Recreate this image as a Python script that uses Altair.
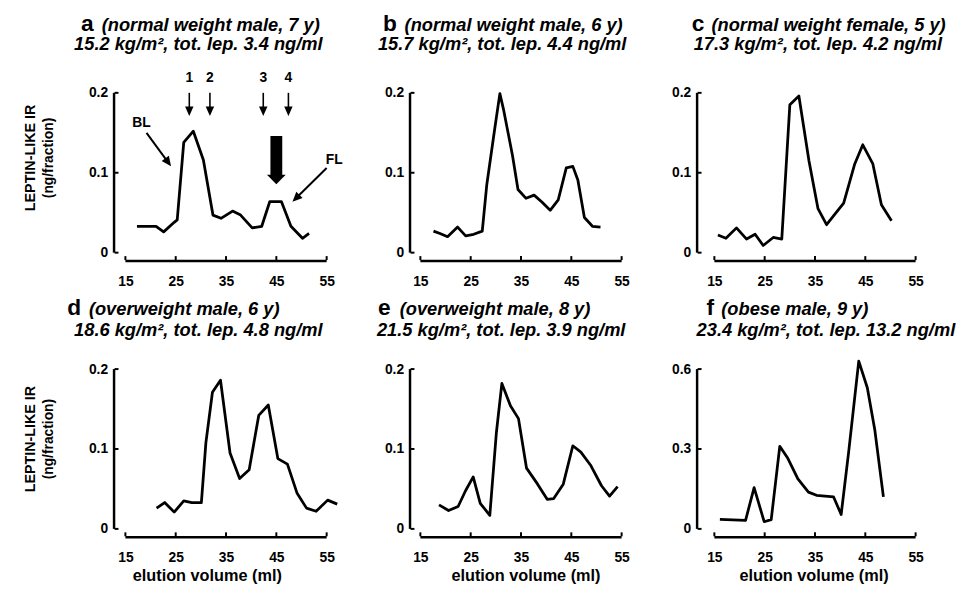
import altair as alt
import pandas as pd

# ---------------- data ----------------
panel_letters = ["a", "b", "c", "d", "e", "f"]
panel_subjects = [
    "(normal weight male, 7 y)",
    "(normal weight male, 6 y)",
    "(normal weight female, 5 y)",
    "(overweight male, 6 y)",
    "(overweight male, 8 y)",
    "(obese male, 9 y)",
]
panel_stats = [
    "15.2 kg/m², tot. lep. 3.4 ng/ml",
    "15.7 kg/m², tot. lep. 4.4 ng/ml",
    "17.3 kg/m², tot. lep. 4.2 ng/ml",
    "18.6 kg/m², tot. lep. 4.8 ng/ml",
    "21.5 kg/m², tot. lep. 3.9 ng/ml",
    "23.4 kg/m², tot. lep. 13.2 ng/ml",
]
x_ticks = [15, 25, 35, 45, 55]
y_ticks_low = [0, 0.1, 0.2]
y_ticks_high = [0, 0.3, 0.6]
y_title_lines = ["LEPTIN-LIKE IR", "(ng/fraction)"]
x_title = "elution volume (ml)"

a_ml = [17.3, 21.1, 22.6, 24.7, 25.3, 26.6, 28.5, 30.5, 32.4, 34.0, 36.3, 37.9, 40.2, 42.1, 43.7, 46.0, 47.9, 50.2, 51.5]
a_ir = [0.033, 0.033, 0.026, 0.038, 0.041, 0.138, 0.152, 0.116, 0.047, 0.043, 0.052, 0.047, 0.031, 0.033, 0.064, 0.064, 0.033, 0.018, 0.024]

b_ml = [17.6, 18.9, 20.4, 22.4, 24.0, 25.6, 27.3, 28.2, 29.8, 30.8, 31.5, 33.3, 34.4, 36.0, 37.6, 39.2, 40.8, 42.4, 44.0, 45.3, 46.3, 47.6, 49.2, 50.8]
b_ir = [0.027, 0.024, 0.020, 0.032, 0.021, 0.023, 0.027, 0.085, 0.156, 0.199, 0.180, 0.122, 0.079, 0.068, 0.072, 0.063, 0.053, 0.066, 0.106, 0.108, 0.091, 0.044, 0.033, 0.032]

c_ml = [15.7, 17.3, 19.4, 21.4, 23.1, 24.7, 26.7, 28.4, 30.0, 31.8, 33.8, 35.6, 37.3, 38.8, 40.7, 42.9, 44.5, 46.5, 48.2, 50.2]
c_ir = [0.022, 0.018, 0.031, 0.017, 0.023, 0.009, 0.019, 0.017, 0.185, 0.196, 0.115, 0.055, 0.035, 0.047, 0.062, 0.111, 0.135, 0.111, 0.060, 0.040]

d_ml = [21.2, 22.8, 24.7, 26.6, 28.2, 30.1, 31.0, 32.3, 33.9, 35.8, 37.7, 39.6, 41.5, 43.4, 45.3, 47.2, 49.1, 51.0, 52.9, 55.2, 57.1]
d_ir = [0.026, 0.033, 0.021, 0.035, 0.033, 0.033, 0.108, 0.171, 0.186, 0.095, 0.063, 0.074, 0.142, 0.155, 0.088, 0.081, 0.045, 0.026, 0.022, 0.036, 0.031]

e_ml = [18.7, 20.6, 22.5, 24.0, 25.5, 26.9, 28.8, 30.1, 31.2, 32.9, 34.5, 36.1, 38.3, 40.2, 41.5, 43.4, 45.3, 46.9, 48.8, 51.0, 52.6, 54.2]
e_ir = [0.030, 0.023, 0.028, 0.048, 0.065, 0.032, 0.017, 0.120, 0.182, 0.154, 0.138, 0.076, 0.056, 0.037, 0.038, 0.056, 0.104, 0.096, 0.080, 0.054, 0.041, 0.053]

f_ml = [16.1, 21.2, 22.9, 24.9, 26.3, 28.0, 29.6, 31.6, 33.7, 35.3, 38.7, 40.2, 41.7, 43.7, 45.4, 46.9, 48.6]
f_ir = [0.036, 0.032, 0.155, 0.027, 0.035, 0.310, 0.265, 0.188, 0.138, 0.126, 0.120, 0.054, 0.290, 0.630, 0.530, 0.370, 0.120]

panel_ml = [a_ml, b_ml, c_ml, d_ml, e_ml, f_ml]
panel_ir = [a_ir, b_ir, c_ir, d_ir, e_ir, f_ir]

# annotations of panel a (fraction markers 1-4, BL / FL arrows)
marker_ml = [27.7, 31.8, 42.4, 47.4]
marker_labels = ["1", "2", "3", "4"]
marker_label_ir = 0.213
marker_top_ir = 0.200
marker_shaft_end_ir = 0.181
marker_head_ir = 0.177
bl_label = ["BL"]
bl_label_pos = [18.2, 0.162]
bl_arrow = [19.2, 0.150, 23.5, 0.113]
fl_label = ["FL"]
fl_label_pos = [56.5, 0.116]
fl_arrow = [55.0, 0.106, 48.9, 0.068]
big_arrow_ml = [45.0]
big_arrow_ir = [0.146, 0.097, 0.0915]

# ---------------- layout / style ----------------
FONT = "Liberation Sans"
PW, PH = 204, 162          # pixel size of the 15-55 ml by 0-max region
TOP = 10                   # head-room above that region inside each cell
BOTTOM = 12                # room below the zero level (for the offset x-axis line)
X_OFF = 8.5                # x-axis line below the zero level
Y_OFF = [13, 12, 19]       # y-axis line left of 15 ml
CELL_W = [240, 231, 238]
CELL_H = TOP + PH + BOTTOM
TITLE_X = [(-45, -24, -52), (-38, -16, -43), (-23, -3, -21),
           (-59, -37, -52), (-43, -21, -44), (-8, 7, -18)]
TITLE_Y = [(-63, -43), (-55, -34)]
TITLE_SIZE = 18.5
YTITLE_Y = [66, 71]
XTITLE_X = [83, 107, 101]
XTITLE_Y = 215

HEAD_PATH = "M0,-1L0.9,1L-0.9,1Z"
BIG_HEAD_PATH = "M0,-0.5L1,0.5L-1,0.5Z"


def one_row(**kw):
    return pd.DataFrame({k: [v] for k, v in kw.items()})


def text_layer(txt, x, y, size, style="normal", angle=0, align="left"):
    return alt.Chart(one_row(t=txt)).mark_text(
        font=FONT, fontSize=size, fontWeight="bold", fontStyle=style,
        color="black", align=align, baseline="alphabetic", angle=angle,
    ).encode(text="t:N", x=alt.value(x), y=alt.value(y))


def make_panel(i):
    row, col = divmod(i, 3)
    L = Y_OFF[col]
    R = CELL_W[col] - L - PW
    df = pd.DataFrame({"ml": panel_ml[i], "ir": panel_ir[i]})
    ymax = 0.6 if i == 5 else 0.2
    yt = y_ticks_high if i == 5 else y_ticks_low
    ml_per_px = (x_ticks[-1] - x_ticks[0]) / PW
    ir_per_px = ymax / PH
    # the scales cover the whole cell so that the offset axis lines lie inside it
    xscale = alt.Scale(domain=[x_ticks[0] - L * ml_per_px, x_ticks[-1] + R * ml_per_px],
                       nice=False, zero=False)
    yscale = alt.Scale(domain=[-BOTTOM * ir_per_px, ymax + TOP * ir_per_px],
                       nice=False, zero=False)
    style = dict(domain=False, ticks=False, tickSize=0, grid=False, labelFlush=False,
                 labelFont=FONT, labelFontWeight="bold", labelFontSize=14,
                 labelColor="black", title=None)
    xenc = alt.X("ml:Q", scale=xscale,
                 axis=alt.Axis(values=x_ticks, labelPadding=10, format="d", **style))
    yenc = alt.Y("ir:Q", scale=yscale,
                 axis=alt.Axis(values=yt, labelPadding=5, format="~g", **style))
    line = alt.Chart(df).mark_line(color="black", strokeWidth=2.8, strokeJoin="round").encode(
        x=xenc, y=yenc)
    layers = [line]

    # axis lines and small inward ticks, placed through the scales
    ax = one_row(x0=float(x_ticks[0]), x1=float(x_ticks[-1]),
                 y0=float(yt[0]), y1=float(yt[-1]))
    layers.append(alt.Chart(ax).mark_rule(color="black", strokeWidth=2.5, yOffset=X_OFF).encode(
        x="x0:Q", x2="x1:Q", y="y0:Q"))
    layers.append(alt.Chart(ax).mark_rule(color="black", strokeWidth=2.5,
                                          xOffset=-(L - 1.5)).encode(
        x="x0:Q", y="y0:Q", y2="y1:Q"))
    xt = pd.DataFrame({"ml": [float(v) for v in x_ticks], "z": [float(yt[0])] * len(x_ticks)})
    layers.append(alt.Chart(xt).mark_rule(color="black", strokeWidth=2, yOffset=X_OFF - 1,
                                          y2Offset=X_OFF - 5).encode(
        x="ml:Q", y="z:Q", y2="z:Q"))
    yv = pd.DataFrame({"ir": [float(v) for v in yt], "z": [float(x_ticks[0])] * len(yt)})
    layers.append(alt.Chart(yv).mark_rule(color="black", strokeWidth=2, xOffset=-(L - 2),
                                          x2Offset=-(L - 6)).encode(
        y="ir:Q", x="z:Q", x2="z:Q"))

    lx, sx, tx = TITLE_X[i]
    y1, y2 = TITLE_Y[row]
    layers.append(text_layer(panel_letters[i], L + lx, TOP + y1, 23))
    layers.append(text_layer(panel_subjects[i], L + sx, TOP + y1, TITLE_SIZE, "italic"))
    layers.append(text_layer(panel_stats[i], L + tx, TOP + y2, TITLE_SIZE, "italic"))

    if col == 0:
        layers.append(text_layer(y_title_lines[0], L - 92, TOP + YTITLE_Y[row], 14.5,
                                 angle=270, align="center"))
        layers.append(text_layer(y_title_lines[1], L - 73, TOP + YTITLE_Y[row], 14,
                                 angle=270, align="center"))
    if row == 1:
        layers.append(text_layer(x_title, L + XTITLE_X[col], TOP + XTITLE_Y, 16.5, align="center"))

    if i == 0:
        mk = pd.DataFrame({"ml": marker_ml, "lab": marker_labels,
                           "top": [marker_top_ir] * 4, "end": [marker_shaft_end_ir] * 4,
                           "head": [marker_head_ir] * 4, "ly": [marker_label_ir] * 4})
        layers.append(alt.Chart(mk).mark_rule(color="black", strokeWidth=1.6).encode(
            x="ml:Q", y="top:Q", y2="end:Q"))
        layers.append(alt.Chart(mk).mark_point(shape=HEAD_PATH, angle=180, filled=True,
                                               color="black", opacity=1, size=90).encode(
            x="ml:Q", y="head:Q"))
        layers.append(alt.Chart(mk).mark_text(font=FONT, fontSize=14, fontWeight="bold",
                                              color="black", baseline="alphabetic").encode(
            x="ml:Q", y="ly:Q", text="lab:N"))
        lab = pd.DataFrame({"ml": [bl_label_pos[0], fl_label_pos[0]],
                            "ir": [bl_label_pos[1], fl_label_pos[1]],
                            "t": bl_label + fl_label})
        layers.append(alt.Chart(lab).mark_text(font=FONT, fontSize=14, fontWeight="bold",
                                               color="black").encode(
            x="ml:Q", y="ir:Q", text="t:N"))
        arr = pd.DataFrame({"x0": [bl_arrow[0], fl_arrow[0]], "y0": [bl_arrow[1], fl_arrow[1]],
                            "x1": [bl_arrow[2], fl_arrow[2]], "y1": [bl_arrow[3], fl_arrow[3]],
                            "ang": [144, 225]})
        layers.append(alt.Chart(arr).mark_rule(color="black", strokeWidth=2).encode(
            x="x0:Q", y="y0:Q", x2="x1:Q", y2="y1:Q"))
        layers.append(alt.Chart(arr).mark_point(shape=HEAD_PATH, filled=True, color="black",
                                                opacity=1, size=100).encode(
            x="x1:Q", y="y1:Q", angle=alt.Angle("ang:Q", scale=None)))
        big = pd.DataFrame({"ml": big_arrow_ml, "top": [big_arrow_ir[0]],
                            "end": [big_arrow_ir[1]], "head": [big_arrow_ir[2]]})
        layers.append(alt.Chart(big).mark_rule(color="black", strokeWidth=12, strokeCap="butt").encode(
            x="ml:Q", y="top:Q", y2="end:Q"))
        layers.append(alt.Chart(big).mark_point(shape=BIG_HEAD_PATH, angle=180, filled=True,
                                                color="black", opacity=1, size=361).encode(
            x="ml:Q", y="head:Q"))

    return alt.layer(*layers).properties(width=CELL_W[col], height=CELL_H)


panels = [make_panel(i) for i in range(6)]

chart = alt.concat(
    *panels, columns=3, spacing={"row": 96, "column": 60}, bounds="flush"
).properties(
    padding={"left": 14, "top": 0, "right": 5, "bottom": 5},
    background="white",
).configure_view(stroke="transparent")

chart.save("out.html", embed_options={"renderer": "svg", "actions": False})
